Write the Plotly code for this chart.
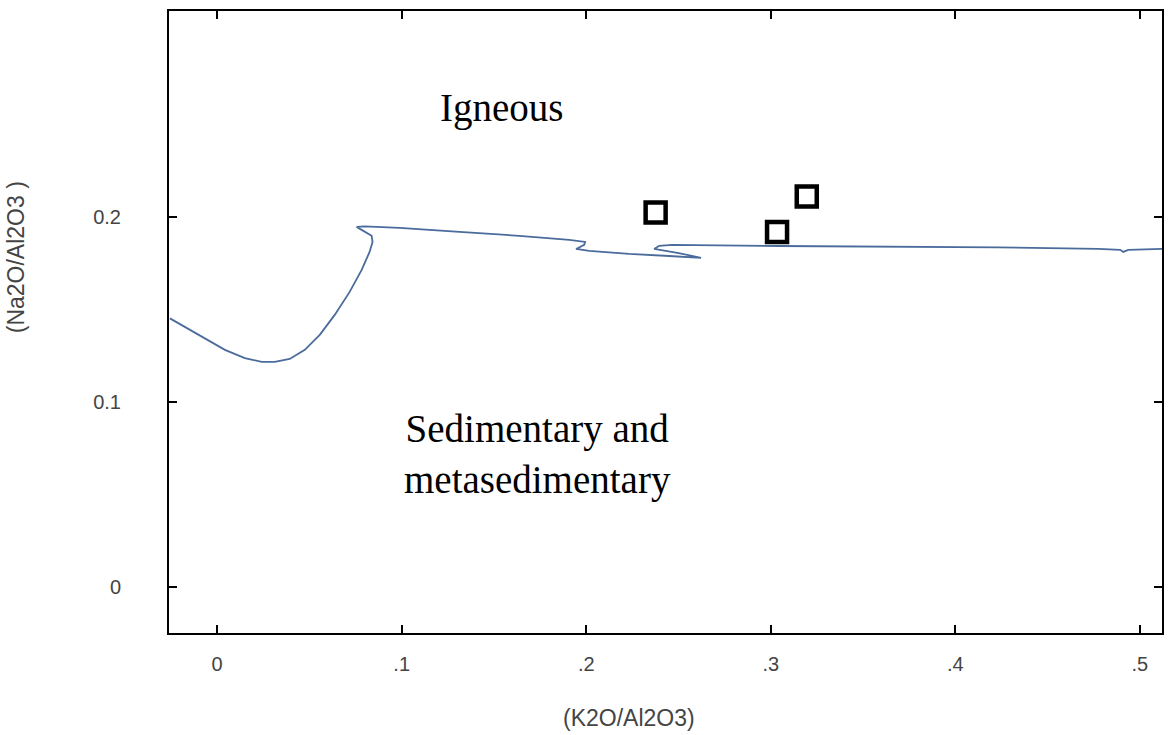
import plotly.graph_objects as go

# Boundary curve (K2O/Al2O3 vs Na2O/Al2O3)
curve_x = [-0.0256, -0.0175, -0.0067, 0.0042, 0.0150, 0.0242, 0.0312, 0.0393, 0.0475,
           0.0556, 0.0637, 0.0718, 0.0783, 0.0826, 0.0842, 0.0837, 0.0783, 0.0756,
           0.0799, 0.0988, 0.1313, 0.1637, 0.1908, 0.1994, 0.1989, 0.1945, 0.2016,
           0.2232, 0.2449, 0.2584, 0.2622, 0.2501, 0.2368, 0.2395, 0.2465, 0.3042,
           0.3692, 0.4233, 0.4774, 0.4894, 0.4910, 0.4937, 0.5121]
curve_y = [0.1450, 0.1404, 0.1339, 0.1280, 0.1236, 0.1215, 0.1215, 0.1231, 0.1280,
           0.1361, 0.1469, 0.1593, 0.1712, 0.1809, 0.1863, 0.1896, 0.1928, 0.1944,
           0.1947, 0.1939, 0.1917, 0.1896, 0.1874, 0.1863, 0.1847, 0.1825, 0.1815,
           0.1798, 0.1787, 0.1782, 0.1777, 0.1803, 0.1825, 0.1842, 0.1847, 0.1841,
           0.1839, 0.1834, 0.1825, 0.1820, 0.1809, 0.1820, 0.1825]

# Samples
sample_x = [0.2376, 0.3034, 0.3195]
sample_y = [0.2022, 0.1916, 0.2108]

x_tickvals = [0, 0.1, 0.2, 0.3, 0.4, 0.5]
x_ticktext = ["0", ".1", ".2", ".3", ".4", ".5"]
y_tickvals = [0, 0.1, 0.2]
y_ticktext = ["0", "0.1", "0.2"]

fig = go.Figure()
fig.add_trace(go.Scatter(x=curve_x, y=curve_y, mode="lines",
                         line=dict(color="#4a6b9c", width=1.8), showlegend=False))
fig.add_trace(go.Scatter(x=sample_x, y=sample_y, mode="markers",
                         marker=dict(symbol="square-open", size=20, color="black",
                                     line=dict(color="black", width=4.5)),
                         showlegend=False))

axis_common = dict(showgrid=False, zeroline=False, showline=True, linecolor="black",
                   linewidth=2, mirror="ticks", ticks="inside", ticklen=8, tickwidth=2,
                   tickcolor="black",
                   tickfont=dict(family="Liberation Sans, Arial", size=20, color="#444"))

fig.update_xaxes(range=[-0.0261, 0.512], tickvals=x_tickvals, ticktext=x_ticktext,
                 ticklabelstandoff=12, **axis_common)
fig.update_yaxes(range=[-0.0249, 0.311], tickvals=y_tickvals, ticktext=y_ticktext,
                 ticklabelstandoff=42, **axis_common)

serif = dict(family="Liberation Serif, Times New Roman", size=39, color="black")
fig.add_annotation(x=0.154, y=0.2588, text="Igneous", showarrow=False, font=serif)
fig.add_annotation(x=0.1735, y=0.0717, text="Sedimentary and<br>metasedimentary",
                   showarrow=False, font=serif, align="center")

sans = dict(family="Liberation Sans, Arial", size=23, color="#444")
fig.add_annotation(xref="paper", yref="paper", x=0.463, y=-0.1367, text="(K2O/Al2O3)",
                   showarrow=False, font=sans, yanchor="middle")
fig.add_annotation(xref="paper", yref="paper", x=-0.1538, y=0.6045, text="(Na2O/Al2O3 )",
                   showarrow=False, font=sans, textangle=-90, xanchor="center", yanchor="middle")

fig.update_layout(width=1168, height=735, margin=dict(l=169, r=4, t=11, b=102),
                  paper_bgcolor="white", plot_bgcolor="white")

# remove the default page margin so the figure sits at the window origin
fig.write_html("out.html", config={"displayModeBar": False},
               post_script="document.body.style.margin='0';document.body.style.overflow='hidden';")
